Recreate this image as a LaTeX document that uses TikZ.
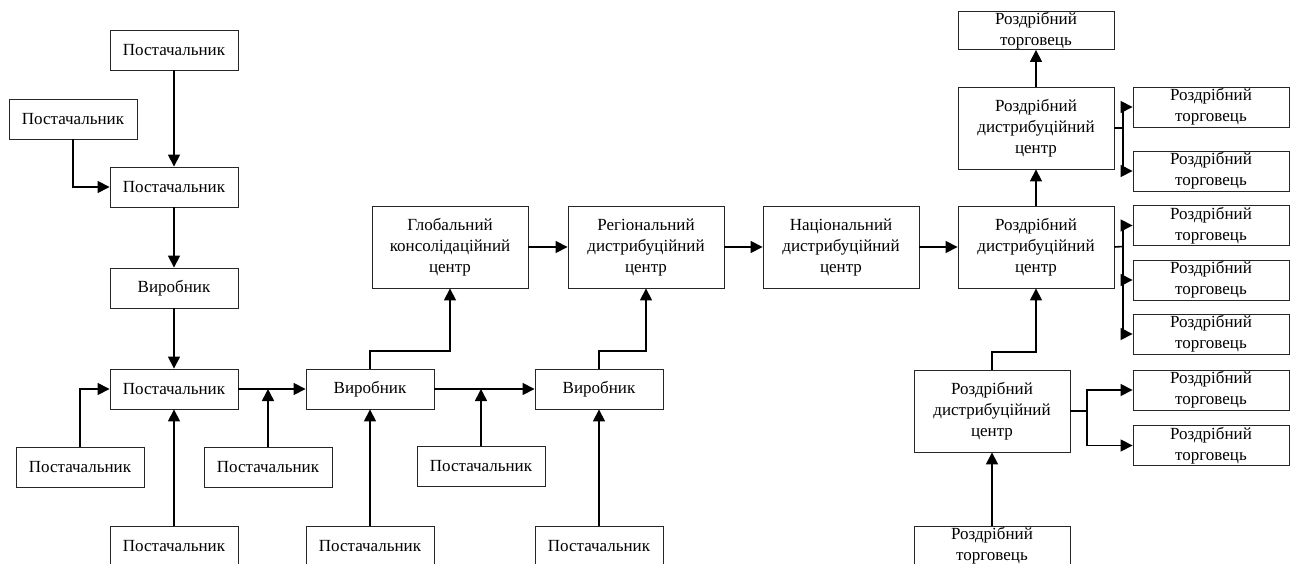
\documentclass[tikz,border=0pt]{standalone}
\usepackage{fontspec}
\setmainfont{Liberation Serif}
\usetikzlibrary{arrows.meta,calc}
\begin{document}
\begin{tikzpicture}[x=1pt,y=-1pt,
  box/.style={draw=black!85, line width=0.9pt, inner sep=0pt, align=center,
    minimum height=40pt, minimum width=128pt, font=\fontsize{17}{21}\selectfont},
  wbox/.style={box, minimum width=156pt},
  tall/.style={wbox, minimum height=82pt},
  conn/.style={line width=1.6pt, -{Triangle[length=12pt,width=12pt]}},
  line/.style={line width=1.6pt}]
\useasboundingbox (0,0) rectangle (1299,564);
% left column
\node[box] (s1) at (174,50) {Постачальник};
\node[box] (s2) at (73,119) {Постачальник};
\node[box] (s3) at (174,187) {Постачальник};
\node[box] (v1) at (174,288) {Виробник};
\node[box] (p) at (174,389) {Постачальник};
\node[box] (sl) at (80,467.5) {Постачальник};
\node[box] (sb1) at (174,546) {Постачальник};
\node[box] (smid) at (268,467.5) {Постачальник};
\node[box] (v2) at (370,389) {Виробник};
\node[box] (sb2) at (370,546) {Постачальник};
\node[box] (smid2) at (481,466.5) {Постачальник};
\node[box] (v3) at (599,389) {Виробник};
\node[box] (sb3) at (599,546) {Постачальник};
% centres
\node[tall] (glob) at (450,247) {Глобальний\\консолідаційний\\центр};
\node[tall] (reg) at (646,247) {Регіональний\\дистрибуційний\\центр};
\node[tall] (nat) at (841,247) {Національний\\дистрибуційний\\центр};
\node[tall] (rdc1) at (1036,247) {Роздрібний\\дистрибуційний\\центр};
\node[tall] (rdct) at (1036,128) {Роздрібний\\дистрибуційний\\центр};
\node[wbox, minimum height=38pt] (rtt) at (1036,30.5) {Роздрібний\\торговець};
\node[tall] (rdcb) at (992,411) {Роздрібний\\дистрибуційний\\центр};
\node[wbox] (rtb) at (992,546) {Роздрібний\\торговець};
\node[wbox] (r1) at (1211,107) {Роздрібний\\торговець};
\node[wbox] (r2) at (1211,171) {Роздрібний\\торговець};
\node[wbox] (r3) at (1211,225.5) {Роздрібний\\торговець};
\node[wbox] (r4) at (1211,280) {Роздрібний\\торговець};
\node[wbox] (r5) at (1211,334) {Роздрібний\\торговець};
\node[wbox] (r6) at (1211,390) {Роздрібний\\торговець};
\node[wbox] (r7) at (1211,445.5) {Роздрібний\\торговець};
% junction coordinates
\coordinate (j1) at (450,351);
\coordinate (j2) at (646,351);
\coordinate (j3) at (1036,352);
\coordinate (b1) at (1123,128);
\coordinate (b2) at (1123,246.5);
\coordinate (b3) at (1087,411);
% connectors left
\draw[conn] (s1) -- (s3);
\draw[conn] (s2.south) |- (s3.west);
\draw[conn] (s3) -- (v1);
\draw[conn] (v1) -- (p);
\draw[conn] (sl.north) |- (p.west);
\draw[conn] (sb1) -- (p);
\draw[conn] (p.east) -- (v2.west);
\draw[conn] (smid.north) -- (smid.north |- p.east);
\draw[conn] (sb2) -- (v2);
\draw[conn] (v2.east) -- (v3.west);
\draw[conn] (smid2.north) -- (smid2.north |- v2.east);
\draw[conn] (sb3) -- (v3);
\draw[conn] (v2.north) |- (j1) -- (glob.south);
\draw[conn] (v3.north) |- (j2) -- (reg.south);
\draw[conn] (glob) -- (reg);
\draw[conn] (reg) -- (nat);
\draw[conn] (nat) -- (rdc1);
% right part
\draw[conn] (rdc1) -- (rdct);
\draw[conn] (rdct) -- (rtt);
\draw[line] (rdct.east) -- (b1);
\draw[conn] (b1) |- (r1.west);
\draw[conn] (b1) |- (r2.west);
\draw[line] (rdc1.east) -- (b2);
\draw[conn] (b2) |- (r3.west);
\draw[conn] (b2) |- (r4.west);
\draw[conn] (b2) |- (r5.west);
\draw[conn] (rdcb.north) |- (j3) -- (rdc1.south);
\draw[line] (rdcb.east) -- (b3);
\draw[conn] (b3) |- (r6.west);
\draw[conn] (b3) |- (r7.west);
\draw[conn] (rtb) -- (rdcb);
\end{tikzpicture}
\end{document}
